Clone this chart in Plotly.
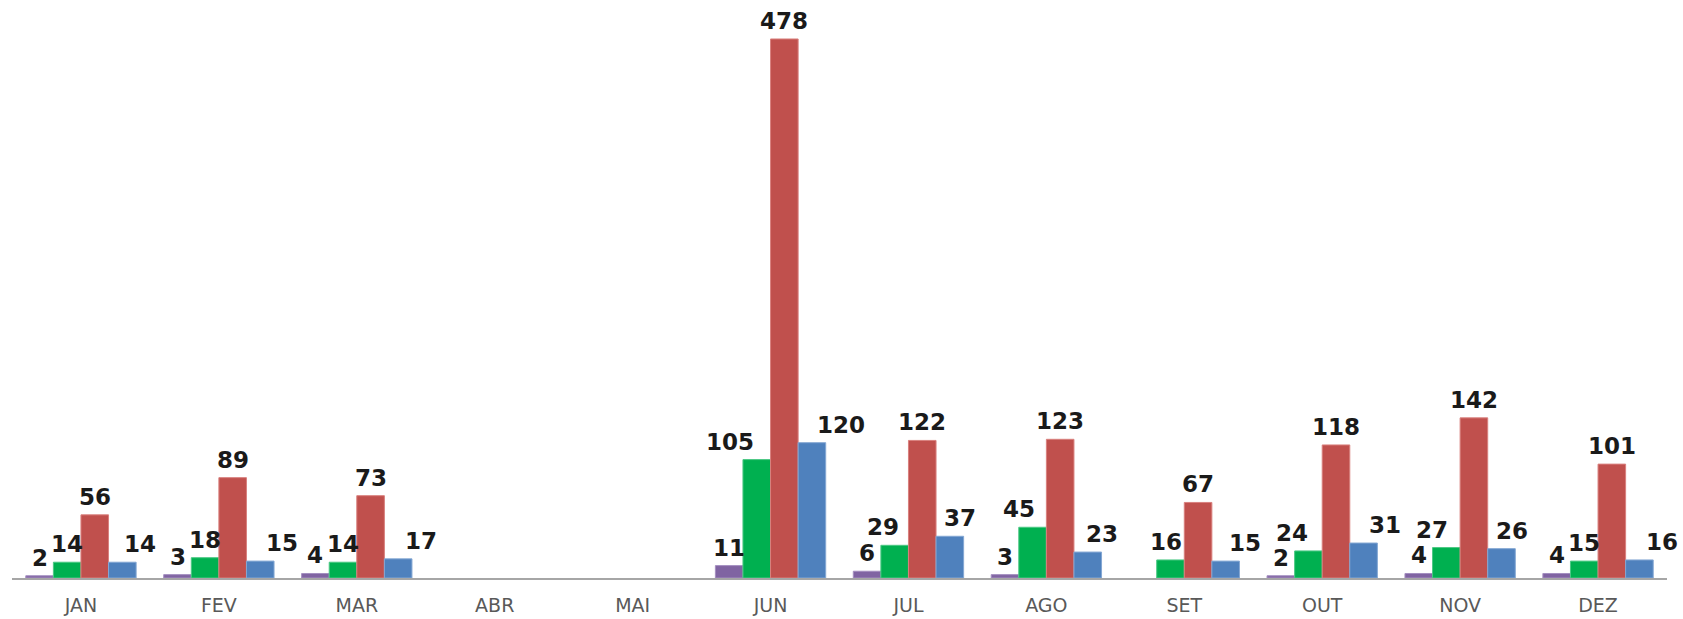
import plotly.graph_objects as go

months = ["JAN", "FEV", "MAR", "ABR", "MAI", "JUN", "JUL", "AGO", "SET", "OUT", "NOV", "DEZ"]
purple_vals = [2, 3, 4, None, None, 11, 6, 3, None, 2, 4, 4]
green_vals = [14, 18, 14, None, None, 105, 29, 45, 16, 24, 27, 15]
red_vals = [56, 89, 73, None, None, 478, 122, 123, 67, 118, 142, 101]
blue_vals = [14, 15, 17, None, None, 120, 37, 23, 15, 31, 26, 16]

# label horizontal nudges (pixels), styling only
green_label_shift = [0, 0, 0, 0, 0, -27, -12, -14, -5, -16, -14, 0]
blue_label_shift = [18, 22, 23, 0, 0, 29, 10, 14, 19, 21, 10, 23]

series = [
    ("s1", purple_vals, "#8064A2", "#A48FC0", [0] * 12),
    ("s2", green_vals, "#00B050", "#4CC884", green_label_shift),
    ("s3", red_vals, "#C0504D", "#D9807E", [0] * 12),
    ("s4", blue_vals, "#4F81BD", "#84A7D3", blue_label_shift),
]

fig = go.Figure()
annotations = []
for idx, (name, vals, col, edge, shifts) in enumerate(series):
    fig.add_trace(go.Bar(
        x=months, y=vals, name=name,
        marker=dict(color=col, line=dict(color=edge, width=1)),
        offsetgroup=str(idx), showlegend=False, hoverinfo="skip",
    ))

n = len(series)
group_w = 0.8
bar_w = group_w / n
for idx, (name, vals, col, edge, shifts) in enumerate(series):
    off = -group_w / 2 + bar_w * (idx + 0.5)
    for i, v in enumerate(vals):
        if v is None:
            continue
        annotations.append(dict(
            x=i + off, y=v, xref="x", yref="y",
            text="<b>%d</b>" % v, showarrow=False,
            xanchor="center", yanchor="middle",
            yshift=18, xshift=shifts[i],
            font=dict(family="DejaVu Sans", size=23, color="#1a1a1a"),
        ))

fig.update_layout(
    width=1683, height=619,
    margin=dict(l=12, r=16, t=10, b=41),
    paper_bgcolor="white", plot_bgcolor="white",
    barmode="group", bargap=0.2, bargroupgap=0,
    annotations=annotations,
    xaxis=dict(
        type="category", categoryorder="array", categoryarray=months,
        range=[-0.5, 11.5], automargin=False,
        showline=True, linecolor="#a6a6a6", linewidth=2,
        showgrid=False, zeroline=False, ticks="",
        ticklabelstandoff=9,
        tickfont=dict(family="DejaVu Sans", size=19, color="#595959"),
    ),
    yaxis=dict(
        range=[0, 503.7], visible=False, showgrid=False, zeroline=False,
        automargin=False,
    ),
)

fig.write_html(
    "out.html",
    config={"displayModeBar": False},
    post_script="document.body.style.margin='0';document.body.style.overflow='hidden';",
)
